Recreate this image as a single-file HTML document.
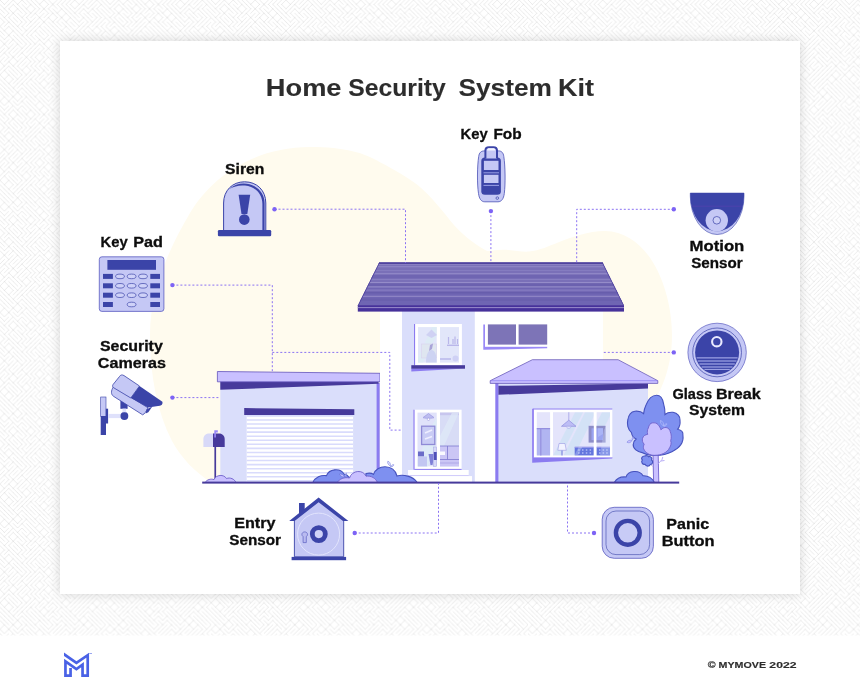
<!DOCTYPE html>
<html lang="en">
<head>
<meta charset="utf-8">
<title>Home Security System Kit</title>
<style>
html,body{margin:0;padding:0;background:#fff;}
body{width:860px;height:694px;overflow:hidden;position:relative;font-family:"Liberation Sans",sans-serif;}
#bg{position:absolute;left:0;top:0;width:860px;height:635.5px;display:block;}
#card{position:absolute;left:60px;top:41px;width:740px;height:553px;background:#fff;box-shadow:0 0 10px rgba(0,0,0,.17);}
#art{will-change:transform;position:absolute;left:0;top:0;width:860px;height:694px;display:block;font-family:"Liberation Sans",sans-serif;}
</style>
</head>
<body>
<svg id="bg" viewBox="0 0 860 635.5" width="860" height="635.5">
<defs><pattern id="mz" width="105.6" height="105.6" patternUnits="userSpaceOnUse"><path d="M0 0l4.4 4.4M8.8 0l-4.4 4.4M13.2 0l-4.4 4.4M13.2 0l4.4 4.4M22 0l-4.4 4.4M22 0l4.4 4.4M26.4 0l4.4 4.4M30.8 0l4.4 4.4M35.2 0l4.4 4.4M44 0l-4.4 4.4M44 0l4.4 4.4M48.4 0l4.4 4.4M57.2 0l-4.4 4.4M61.6 0l-4.4 4.4M66 0l-4.4 4.4M70.4 0l-4.4 4.4M74.8 0l-4.4 4.4M74.8 0l4.4 4.4M83.6 0l-4.4 4.4M88 0l-4.4 4.4M92.4 0l-4.4 4.4M96.8 0l-4.4 4.4M96.8 0l4.4 4.4M101.2 0l4.4 4.4M0 4.4l4.4 4.4M8.8 4.4l-4.4 4.4M13.2 4.4l-4.4 4.4M13.2 4.4l4.4 4.4M17.6 4.4l4.4 4.4M22 4.4l4.4 4.4M30.8 4.4l-4.4 4.4M30.8 4.4l4.4 4.4M35.2 4.4l4.4 4.4M39.6 4.4l4.4 4.4M48.4 4.4l-4.4 4.4M52.8 4.4l-4.4 4.4M52.8 4.4l4.4 4.4M57.2 4.4l4.4 4.4M61.6 4.4l4.4 4.4M66 4.4l4.4 4.4M70.4 4.4l4.4 4.4M79.2 4.4l-4.4 4.4M83.6 4.4l-4.4 4.4M83.6 4.4l4.4 4.4M92.4 4.4l-4.4 4.4M96.8 4.4l-4.4 4.4M101.2 4.4l-4.4 4.4M101.2 4.4l4.4 4.4M0 8.8l4.4 4.4M4.4 8.8l4.4 4.4M8.8 8.8l4.4 4.4M17.6 8.8l-4.4 4.4M17.6 8.8l4.4 4.4M22 8.8l4.4 4.4M26.4 8.8l4.4 4.4M35.2 8.8l-4.4 4.4M39.6 8.8l-4.4 4.4M44 8.8l-4.4 4.4M44 8.8l4.4 4.4M48.4 8.8l4.4 4.4M52.8 8.8l4.4 4.4M61.6 8.8l-4.4 4.4M61.6 8.8l4.4 4.4M66 8.8l4.4 4.4M70.4 8.8l4.4 4.4M79.2 8.8l-4.4 4.4M83.6 8.8l-4.4 4.4M83.6 8.8l4.4 4.4M92.4 8.8l-4.4 4.4M92.4 8.8l4.4 4.4M96.8 8.8l4.4 4.4M101.2 8.8l4.4 4.4M0 13.2l4.4 4.4M8.8 13.2l-4.4 4.4M13.2 13.2l-4.4 4.4M13.2 13.2l4.4 4.4M17.6 13.2l4.4 4.4M26.4 13.2l-4.4 4.4M30.8 13.2l-4.4 4.4M35.2 13.2l-4.4 4.4M35.2 13.2l4.4 4.4M44 13.2l-4.4 4.4M48.4 13.2l-4.4 4.4M52.8 13.2l-4.4 4.4M52.8 13.2l4.4 4.4M57.2 13.2l4.4 4.4M66 13.2l-4.4 4.4M66 13.2l4.4 4.4M70.4 13.2l4.4 4.4M74.8 13.2l4.4 4.4M79.2 13.2l4.4 4.4M83.6 13.2l4.4 4.4M88 13.2l4.4 4.4M92.4 13.2l4.4 4.4M96.8 13.2l4.4 4.4M101.2 13.2l4.4 4.4M0 17.6l4.4 4.4M4.4 17.6l4.4 4.4M8.8 17.6l4.4 4.4M13.2 17.6l4.4 4.4M17.6 17.6l4.4 4.4M22 17.6l4.4 4.4M26.4 17.6l4.4 4.4M35.2 17.6l-4.4 4.4M39.6 17.6l-4.4 4.4M39.6 17.6l4.4 4.4M48.4 17.6l-4.4 4.4M48.4 17.6l4.4 4.4M57.2 17.6l-4.4 4.4M61.6 17.6l-4.4 4.4M61.6 17.6l4.4 4.4M70.4 17.6l-4.4 4.4M70.4 17.6l4.4 4.4M74.8 17.6l4.4 4.4M83.6 17.6l-4.4 4.4M83.6 17.6l4.4 4.4M88 17.6l4.4 4.4M96.8 17.6l-4.4 4.4M101.2 17.6l-4.4 4.4M105.6 17.6l-4.4 4.4M4.4 22l-4.4 4.4M8.8 22l-4.4 4.4M8.8 22l4.4 4.4M13.2 22l4.4 4.4M22 22l-4.4 4.4M26.4 22l-4.4 4.4M30.8 22l-4.4 4.4M35.2 22l-4.4 4.4M39.6 22l-4.4 4.4M44 22l-4.4 4.4M44 22l4.4 4.4M48.4 22l4.4 4.4M52.8 22l4.4 4.4M57.2 22l4.4 4.4M61.6 22l4.4 4.4M66 22l4.4 4.4M70.4 22l4.4 4.4M74.8 22l4.4 4.4M83.6 22l-4.4 4.4M88 22l-4.4 4.4M92.4 22l-4.4 4.4M96.8 22l-4.4 4.4M101.2 22l-4.4 4.4M105.6 22l-4.4 4.4M0 26.4l4.4 4.4M8.8 26.4l-4.4 4.4M8.8 26.4l4.4 4.4M13.2 26.4l4.4 4.4M17.6 26.4l4.4 4.4M22 26.4l4.4 4.4M30.8 26.4l-4.4 4.4M35.2 26.4l-4.4 4.4M39.6 26.4l-4.4 4.4M39.6 26.4l4.4 4.4M44 26.4l4.4 4.4M48.4 26.4l4.4 4.4M52.8 26.4l4.4 4.4M57.2 26.4l4.4 4.4M66 26.4l-4.4 4.4M66 26.4l4.4 4.4M70.4 26.4l4.4 4.4M79.2 26.4l-4.4 4.4M83.6 26.4l-4.4 4.4M88 26.4l-4.4 4.4M88 26.4l4.4 4.4M96.8 26.4l-4.4 4.4M96.8 26.4l4.4 4.4M101.2 26.4l4.4 4.4M0 30.8l4.4 4.4M4.4 30.8l4.4 4.4M13.2 30.8l-4.4 4.4M13.2 30.8l4.4 4.4M17.6 30.8l4.4 4.4M26.4 30.8l-4.4 4.4M30.8 30.8l-4.4 4.4M35.2 30.8l-4.4 4.4M35.2 30.8l4.4 4.4M39.6 30.8l4.4 4.4M44 30.8l4.4 4.4M48.4 30.8l4.4 4.4M52.8 30.8l4.4 4.4M57.2 30.8l4.4 4.4M61.6 30.8l4.4 4.4M66 30.8l4.4 4.4M74.8 30.8l-4.4 4.4M74.8 30.8l4.4 4.4M79.2 30.8l4.4 4.4M83.6 30.8l4.4 4.4M88 30.8l4.4 4.4M92.4 30.8l4.4 4.4M101.2 30.8l-4.4 4.4M105.6 30.8l-4.4 4.4M0 35.2l4.4 4.4M8.8 35.2l-4.4 4.4M8.8 35.2l4.4 4.4M13.2 35.2l4.4 4.4M17.6 35.2l4.4 4.4M22 35.2l4.4 4.4M26.4 35.2l4.4 4.4M30.8 35.2l4.4 4.4M35.2 35.2l4.4 4.4M39.6 35.2l4.4 4.4M48.4 35.2l-4.4 4.4M52.8 35.2l-4.4 4.4M52.8 35.2l4.4 4.4M57.2 35.2l4.4 4.4M61.6 35.2l4.4 4.4M66 35.2l4.4 4.4M74.8 35.2l-4.4 4.4M79.2 35.2l-4.4 4.4M79.2 35.2l4.4 4.4M83.6 35.2l4.4 4.4M88 35.2l4.4 4.4M92.4 35.2l4.4 4.4M96.8 35.2l4.4 4.4M101.2 35.2l4.4 4.4M0 39.6l4.4 4.4M8.8 39.6l-4.4 4.4M13.2 39.6l-4.4 4.4M13.2 39.6l4.4 4.4M17.6 39.6l4.4 4.4M22 39.6l4.4 4.4M26.4 39.6l4.4 4.4M30.8 39.6l4.4 4.4M39.6 39.6l-4.4 4.4M39.6 39.6l4.4 4.4M48.4 39.6l-4.4 4.4M48.4 39.6l4.4 4.4M52.8 39.6l4.4 4.4M57.2 39.6l4.4 4.4M61.6 39.6l4.4 4.4M70.4 39.6l-4.4 4.4M74.8 39.6l-4.4 4.4M79.2 39.6l-4.4 4.4M83.6 39.6l-4.4 4.4M83.6 39.6l4.4 4.4M88 39.6l4.4 4.4M92.4 39.6l4.4 4.4M101.2 39.6l-4.4 4.4M101.2 39.6l4.4 4.4M4.4 44l-4.4 4.4M4.4 44l4.4 4.4M13.2 44l-4.4 4.4M17.6 44l-4.4 4.4M17.6 44l4.4 4.4M26.4 44l-4.4 4.4M30.8 44l-4.4 4.4M35.2 44l-4.4 4.4M39.6 44l-4.4 4.4M39.6 44l4.4 4.4M44 44l4.4 4.4M52.8 44l-4.4 4.4M57.2 44l-4.4 4.4M57.2 44l4.4 4.4M61.6 44l4.4 4.4M70.4 44l-4.4 4.4M74.8 44l-4.4 4.4M79.2 44l-4.4 4.4M79.2 44l4.4 4.4M83.6 44l4.4 4.4M88 44l4.4 4.4M92.4 44l4.4 4.4M96.8 44l4.4 4.4M105.6 44l-4.4 4.4M4.4 48.4l-4.4 4.4M8.8 48.4l-4.4 4.4M13.2 48.4l-4.4 4.4M17.6 48.4l-4.4 4.4M22 48.4l-4.4 4.4M26.4 48.4l-4.4 4.4M30.8 48.4l-4.4 4.4M35.2 48.4l-4.4 4.4M39.6 48.4l-4.4 4.4M44 48.4l-4.4 4.4M48.4 48.4l-4.4 4.4M48.4 48.4l4.4 4.4M57.2 48.4l-4.4 4.4M61.6 48.4l-4.4 4.4M66 48.4l-4.4 4.4M70.4 48.4l-4.4 4.4M74.8 48.4l-4.4 4.4M74.8 48.4l4.4 4.4M79.2 48.4l4.4 4.4M83.6 48.4l4.4 4.4M92.4 48.4l-4.4 4.4M92.4 48.4l4.4 4.4M96.8 48.4l4.4 4.4M105.6 48.4l-4.4 4.4M4.4 52.8l-4.4 4.4M4.4 52.8l4.4 4.4M8.8 52.8l4.4 4.4M17.6 52.8l-4.4 4.4M22 52.8l-4.4 4.4M22 52.8l4.4 4.4M30.8 52.8l-4.4 4.4M35.2 52.8l-4.4 4.4M39.6 52.8l-4.4 4.4M39.6 52.8l4.4 4.4M44 52.8l4.4 4.4M48.4 52.8l4.4 4.4M57.2 52.8l-4.4 4.4M61.6 52.8l-4.4 4.4M66 52.8l-4.4 4.4M70.4 52.8l-4.4 4.4M74.8 52.8l-4.4 4.4M79.2 52.8l-4.4 4.4M79.2 52.8l4.4 4.4M83.6 52.8l4.4 4.4M88 52.8l4.4 4.4M92.4 52.8l4.4 4.4M96.8 52.8l4.4 4.4M101.2 52.8l4.4 4.4M4.4 57.2l-4.4 4.4M8.8 57.2l-4.4 4.4M13.2 57.2l-4.4 4.4M13.2 57.2l4.4 4.4M22 57.2l-4.4 4.4M26.4 57.2l-4.4 4.4M26.4 57.2l4.4 4.4M30.8 57.2l4.4 4.4M35.2 57.2l4.4 4.4M44 57.2l-4.4 4.4M48.4 57.2l-4.4 4.4M48.4 57.2l4.4 4.4M52.8 57.2l4.4 4.4M61.6 57.2l-4.4 4.4M66 57.2l-4.4 4.4M70.4 57.2l-4.4 4.4M74.8 57.2l-4.4 4.4M74.8 57.2l4.4 4.4M79.2 57.2l4.4 4.4M83.6 57.2l4.4 4.4M92.4 57.2l-4.4 4.4M92.4 57.2l4.4 4.4M96.8 57.2l4.4 4.4M101.2 57.2l4.4 4.4M0 61.6l4.4 4.4M8.8 61.6l-4.4 4.4M8.8 61.6l4.4 4.4M17.6 61.6l-4.4 4.4M22 61.6l-4.4 4.4M26.4 61.6l-4.4 4.4M30.8 61.6l-4.4 4.4M35.2 61.6l-4.4 4.4M39.6 61.6l-4.4 4.4M44 61.6l-4.4 4.4M44 61.6l4.4 4.4M52.8 61.6l-4.4 4.4M52.8 61.6l4.4 4.4M57.2 61.6l4.4 4.4M61.6 61.6l4.4 4.4M70.4 61.6l-4.4 4.4M74.8 61.6l-4.4 4.4M79.2 61.6l-4.4 4.4M79.2 61.6l4.4 4.4M83.6 61.6l4.4 4.4M92.4 61.6l-4.4 4.4M92.4 61.6l4.4 4.4M101.2 61.6l-4.4 4.4M101.2 61.6l4.4 4.4M4.4 66l-4.4 4.4M8.8 66l-4.4 4.4M8.8 66l4.4 4.4M13.2 66l4.4 4.4M17.6 66l4.4 4.4M26.4 66l-4.4 4.4M26.4 66l4.4 4.4M30.8 66l4.4 4.4M35.2 66l4.4 4.4M39.6 66l4.4 4.4M44 66l4.4 4.4M48.4 66l4.4 4.4M52.8 66l4.4 4.4M57.2 66l4.4 4.4M61.6 66l4.4 4.4M66 66l4.4 4.4M70.4 66l4.4 4.4M79.2 66l-4.4 4.4M83.6 66l-4.4 4.4M88 66l-4.4 4.4M92.4 66l-4.4 4.4M96.8 66l-4.4 4.4M96.8 66l4.4 4.4M101.2 66l4.4 4.4M4.4 70.4l-4.4 4.4M4.4 70.4l4.4 4.4M8.8 70.4l4.4 4.4M13.2 70.4l4.4 4.4M17.6 70.4l4.4 4.4M22 70.4l4.4 4.4M30.8 70.4l-4.4 4.4M35.2 70.4l-4.4 4.4M35.2 70.4l4.4 4.4M44 70.4l-4.4 4.4M44 70.4l4.4 4.4M52.8 70.4l-4.4 4.4M52.8 70.4l4.4 4.4M57.2 70.4l4.4 4.4M66 70.4l-4.4 4.4M66 70.4l4.4 4.4M74.8 70.4l-4.4 4.4M79.2 70.4l-4.4 4.4M83.6 70.4l-4.4 4.4M88 70.4l-4.4 4.4M92.4 70.4l-4.4 4.4M96.8 70.4l-4.4 4.4M96.8 70.4l4.4 4.4M101.2 70.4l4.4 4.4M0 74.8l4.4 4.4M8.8 74.8l-4.4 4.4M8.8 74.8l4.4 4.4M13.2 74.8l4.4 4.4M22 74.8l-4.4 4.4M26.4 74.8l-4.4 4.4M30.8 74.8l-4.4 4.4M35.2 74.8l-4.4 4.4M39.6 74.8l-4.4 4.4M44 74.8l-4.4 4.4M48.4 74.8l-4.4 4.4M52.8 74.8l-4.4 4.4M52.8 74.8l4.4 4.4M57.2 74.8l4.4 4.4M61.6 74.8l4.4 4.4M70.4 74.8l-4.4 4.4M74.8 74.8l-4.4 4.4M79.2 74.8l-4.4 4.4M83.6 74.8l-4.4 4.4M88 74.8l-4.4 4.4M92.4 74.8l-4.4 4.4M92.4 74.8l4.4 4.4M101.2 74.8l-4.4 4.4M105.6 74.8l-4.4 4.4M0 79.2l4.4 4.4M4.4 79.2l4.4 4.4M13.2 79.2l-4.4 4.4M17.6 79.2l-4.4 4.4M22 79.2l-4.4 4.4M26.4 79.2l-4.4 4.4M30.8 79.2l-4.4 4.4M30.8 79.2l4.4 4.4M35.2 79.2l4.4 4.4M44 79.2l-4.4 4.4M44 79.2l4.4 4.4M52.8 79.2l-4.4 4.4M57.2 79.2l-4.4 4.4M61.6 79.2l-4.4 4.4M61.6 79.2l4.4 4.4M66 79.2l4.4 4.4M74.8 79.2l-4.4 4.4M79.2 79.2l-4.4 4.4M83.6 79.2l-4.4 4.4M88 79.2l-4.4 4.4M88 79.2l4.4 4.4M96.8 79.2l-4.4 4.4M96.8 79.2l4.4 4.4M101.2 79.2l4.4 4.4M0 83.6l4.4 4.4M4.4 83.6l4.4 4.4M8.8 83.6l4.4 4.4M17.6 83.6l-4.4 4.4M22 83.6l-4.4 4.4M22 83.6l4.4 4.4M26.4 83.6l4.4 4.4M30.8 83.6l4.4 4.4M35.2 83.6l4.4 4.4M39.6 83.6l4.4 4.4M48.4 83.6l-4.4 4.4M52.8 83.6l-4.4 4.4M52.8 83.6l4.4 4.4M57.2 83.6l4.4 4.4M61.6 83.6l4.4 4.4M66 83.6l4.4 4.4M70.4 83.6l4.4 4.4M79.2 83.6l-4.4 4.4M83.6 83.6l-4.4 4.4M88 83.6l-4.4 4.4M88 83.6l4.4 4.4M92.4 83.6l4.4 4.4M96.8 83.6l4.4 4.4M101.2 83.6l4.4 4.4M0 88l4.4 4.4M4.4 88l4.4 4.4M8.8 88l4.4 4.4M13.2 88l4.4 4.4M22 88l-4.4 4.4M22 88l4.4 4.4M26.4 88l4.4 4.4M30.8 88l4.4 4.4M35.2 88l4.4 4.4M39.6 88l4.4 4.4M44 88l4.4 4.4M52.8 88l-4.4 4.4M52.8 88l4.4 4.4M61.6 88l-4.4 4.4M61.6 88l4.4 4.4M66 88l4.4 4.4M70.4 88l4.4 4.4M74.8 88l4.4 4.4M83.6 88l-4.4 4.4M83.6 88l4.4 4.4M88 88l4.4 4.4M92.4 88l4.4 4.4M96.8 88l4.4 4.4M101.2 88l4.4 4.4M0 92.4l4.4 4.4M4.4 92.4l4.4 4.4M8.8 92.4l4.4 4.4M17.6 92.4l-4.4 4.4M17.6 92.4l4.4 4.4M22 92.4l4.4 4.4M26.4 92.4l4.4 4.4M30.8 92.4l4.4 4.4M39.6 92.4l-4.4 4.4M39.6 92.4l4.4 4.4M44 92.4l4.4 4.4M48.4 92.4l4.4 4.4M52.8 92.4l4.4 4.4M61.6 92.4l-4.4 4.4M61.6 92.4l4.4 4.4M66 92.4l4.4 4.4M70.4 92.4l4.4 4.4M79.2 92.4l-4.4 4.4M79.2 92.4l4.4 4.4M88 92.4l-4.4 4.4M88 92.4l4.4 4.4M92.4 92.4l4.4 4.4M96.8 92.4l4.4 4.4M101.2 92.4l4.4 4.4M4.4 96.8l-4.4 4.4M4.4 96.8l4.4 4.4M13.2 96.8l-4.4 4.4M13.2 96.8l4.4 4.4M22 96.8l-4.4 4.4M26.4 96.8l-4.4 4.4M26.4 96.8l4.4 4.4M30.8 96.8l4.4 4.4M35.2 96.8l4.4 4.4M39.6 96.8l4.4 4.4M44 96.8l4.4 4.4M52.8 96.8l-4.4 4.4M57.2 96.8l-4.4 4.4M61.6 96.8l-4.4 4.4M66 96.8l-4.4 4.4M66 96.8l4.4 4.4M70.4 96.8l4.4 4.4M79.2 96.8l-4.4 4.4M83.6 96.8l-4.4 4.4M83.6 96.8l4.4 4.4M92.4 96.8l-4.4 4.4M92.4 96.8l4.4 4.4M96.8 96.8l4.4 4.4M105.6 96.8l-4.4 4.4M0 101.2l4.4 4.4M8.8 101.2l-4.4 4.4M8.8 101.2l4.4 4.4M13.2 101.2l4.4 4.4M22 101.2l-4.4 4.4M22 101.2l4.4 4.4M26.4 101.2l4.4 4.4M30.8 101.2l4.4 4.4M39.6 101.2l-4.4 4.4M39.6 101.2l4.4 4.4M44 101.2l4.4 4.4M52.8 101.2l-4.4 4.4M57.2 101.2l-4.4 4.4M61.6 101.2l-4.4 4.4M66 101.2l-4.4 4.4M66 101.2l4.4 4.4M74.8 101.2l-4.4 4.4M79.2 101.2l-4.4 4.4M83.6 101.2l-4.4 4.4M88 101.2l-4.4 4.4M92.4 101.2l-4.4 4.4M96.8 101.2l-4.4 4.4M101.2 101.2l-4.4 4.4M105.6 101.2l-4.4 4.4" fill="none" stroke="#dadada" stroke-width="0.55" stroke-linecap="square"/></pattern></defs>
<rect width="860" height="635.5" fill="#fff"/>
<rect width="860" height="635.5" fill="url(#mz)"/>
</svg>
<div id="card"></div>
<svg id="art" viewBox="0 0 860 694" width="860" height="694">
<path fill="#fffbee" d="M310 147C255 147 212 176 190 213C168 250 150 292 150 335C150 375 157 412 172 441C181 458 196 473 212 483L520 483L510 300L506.5 262.8C501 259 495 255.5 488 251.6C477 246 466 238 454.4 225.6C444 213 432 197 417 184.6C407 177 395 170 380 162.3C365 153 345 147 310 147Z"/>
<path fill="#fffbee" d="M455 262.5C460 258.5 464 256.4 469.3 255.3C480 252.5 492 250 502.8 249.8C512 249.8 520 252 528.8 251.6C540 250.5 549 246 558.6 242.3C572 237 588 231 605 231C650 232 672 290 672 335C672 370 660 392 650 410L640 483L455 483Z"/>
<rect x="220.3" y="381" width="158.5" height="101.5" fill="#dadefb"/>
<rect x="376.6" y="383" width="3.1" height="99.5" fill="#8b7bf0"/>
<path d="M220.3 381.5H378.5V383.7L220.3 389.8Z" fill="#473a9b"/>
<path d="M217.4 371.5L380 373.3V381.8H217.4Z" fill="#c9c0ff" stroke="#6353bb" stroke-width="0.8"/>
<rect x="246.7" y="414" width="106.4" height="68.5" fill="#fff"/>
<path d="M246.7 415.90H353.1M246.7 419.96H353.1M246.7 424.02H353.1M246.7 428.08H353.1M246.7 432.14H353.1M246.7 436.20H353.1M246.7 440.26H353.1M246.7 444.32H353.1M246.7 448.38H353.1M246.7 452.44H353.1M246.7 456.50H353.1M246.7 460.56H353.1M246.7 464.62H353.1M246.7 468.68H353.1M246.7 472.74H353.1M246.7 476.80H353.1M246.7 480.86H353.1" stroke="#d9dbfc" stroke-width="1.6" fill="none"/>
<path d="M244.2 408.1L354.3 409.3V414.9H244.2Z" fill="#473a9b"/>
<rect x="380" y="308" width="223" height="175" fill="#fff"/>
<rect x="402" y="308" width="72.8" height="175" fill="#dadefb"/>
<clipPath id="rf"><path d="M379.3 262.2H602.5L624 305.5V311.8H357.8V305.5Z"/></clipPath>
<g clip-path="url(#rf)"><rect x="357" y="262" width="268" height="26" fill="#7a70b8"/><rect x="357" y="287" width="268" height="19" fill="#6f65b3"/><rect x="357" y="274.8" width="268" height="3.4" fill="#6f65b2"/><rect x="357" y="283.1" width="268" height="3.2" fill="#6b61af"/><rect x="357" y="289.3" width="268" height="2.2" fill="#8177be"/><rect x="357" y="291.8" width="268" height="1.6" fill="#675dac"/><rect x="357" y="298.5" width="268" height="2.5" fill="#6a60ae"/><rect x="357" y="264.3" width="268" height="0.6" fill="#958cc9"/><rect x="357" y="266.4" width="268" height="0.8" fill="#9990cc"/><rect x="357" y="270" width="268" height="0.7" fill="#8a81c3"/><rect x="357" y="273.3" width="268" height="0.9" fill="#9990cc"/><rect x="357" y="279.3" width="268" height="0.7" fill="#8d84c5"/><rect x="357" y="282.2" width="268" height="0.9" fill="#9c93ce"/><rect x="357" y="286.5" width="268" height="0.9" fill="#9c93ce"/><rect x="357" y="295.8" width="268" height="0.9" fill="#9a91cc"/><rect x="357" y="262.2" width="268" height="1.7" fill="#4c3e9c"/><rect x="357" y="305.3" width="268" height="6.5" fill="#46319a"/><rect x="357" y="307.2" width="268" height=".9" fill="#a597d2"/><path d="M379.3 262.2L357.8 305.5M602.5 262.2L624 305.5" stroke="#4c3e9c" stroke-width="1.4" fill="none"/></g>
<path d="M411.3 368.5H465L411.3 371.6Z" fill="#8b7bf0"/>
<rect x="414.4" y="324" width="47.5" height="41.5" fill="#fff"/>
<rect x="414" y="324" width="1.1" height="41.5" fill="#8b7bf0"/>
<rect x="418" y="327.1" width="18.7" height="35.5" fill="#e2e6fa"/>
<rect x="440" y="327.1" width="19" height="35.5" fill="#e2e6fa"/>
<path d="M432 327.1H436.7V335L423 362.6H418V358Z" fill="#dcecf4" opacity=".8"/>
<path d="M426 335L431.5 329.5L437 335L431.5 338Z" fill="#cfd1f3"/>
<rect x="421.5" y="344" width="15.2" height="14" fill="#dfe6f0" stroke="#d9d2ee" stroke-width=".6"/>
<path d="M426 362.6C426 355 428 350 431.5 350C435 350 436.7 355 436.7 362.6Z" fill="#cdd3f2"/>
<path d="M430 345L433 343.5L432 349L429 351Z" fill="#a9a4d8"/>
<path d="M447 345.3H459" stroke="#b9b6ea" stroke-width="1.4"/>
<path d="M448.5 344V337M453 344V339M455 344V336.5M457.5 344V339" stroke="#b9b6ea" stroke-width="1.2"/>
<path d="M440 359H451" stroke="#c3c3ef" stroke-width="2"/>
<circle cx="455.5" cy="358.5" r="3" fill="#cfd1f5"/>
<rect x="411.3" y="365.2" width="53.7" height="3.5" fill="#473a9b"/>
<path d="M483.3 324.4H485V346.5H547.2V348.2L483.3 349.8Z" fill="#9a89f7"/>
<rect x="485" y="322.6" width="64" height="24" fill="#fff"/>
<rect x="487.9" y="324.4" width="28.1" height="20.2" fill="#7d74b7"/>
<rect x="518.6" y="324.4" width="28.6" height="20.2" fill="#7d74b7"/>
<rect x="413.6" y="409.7" width="48" height="60" fill="#fff"/>
<rect x="413.4" y="409.7" width="1.2" height="60" fill="#8b7bf0"/>
<rect x="414.3" y="468.9" width="47.3" height="1" fill="#8b7bf0"/>
<rect x="417.5" y="412.6" width="19.2" height="53.8" fill="#e0e2fa"/>
<rect x="440" y="412.6" width="19" height="53.8" fill="#d8dcf6"/>
<rect x="440" y="412.6" width="19" height="2.6" fill="#c8c6ee"/>
<path d="M436.7 440L428 466.4H417.5V460L432 425L436.7 418Z" fill="#dcecf6" opacity=".75"/>
<path d="M459 412.6L444 446H440V436L452 412.6Z" fill="#e0eaf8" opacity=".7"/>
<path d="M423 417.5L428.5 413.5L434 417.5C434 418.6 423 418.6 423 417.5Z" fill="#bcbcf0" stroke="#8b86d8" stroke-width=".5"/>
<circle cx="428.5" cy="419.3" r="1.2" fill="#fff" stroke="#8b86d8" stroke-width=".5"/>
<rect x="421.6" y="426.2" width="13.2" height="18.3" fill="#c9ccf5" stroke="#8f8ad6" stroke-width="1.3"/>
<path d="M425 433L432 430M425 439L432 436.5" stroke="#eef" stroke-width="1.6"/>
<rect x="440" y="446" width="19" height="20.4" fill="#cbc6f5"/>
<path d="M440 446H459M440 459.5H459M447.5 446V459.5" stroke="#7d78cf" stroke-width=".8" fill="none"/>
<rect x="440" y="451.5" width="5" height="3.5" fill="#fff" opacity=".9"/>
<path d="M440 463H459" stroke="#b5aeea" stroke-width="1.2"/>
<rect x="418" y="451.5" width="6" height="5" fill="#6a6cc8"/>
<rect x="418" y="456.5" width="9" height="9.9" fill="#c2c6f2"/>
<path d="M428.5 454H434.5L432.5 465H430.5Z" fill="#7f80d8"/>
<rect x="433.5" y="447" width="3.2" height="19.4" fill="#d6d8f8" stroke="#a5a6e2" stroke-width=".5"/>
<rect x="433.8" y="452" width="2.9" height="8" fill="#4f50b8"/>
<rect x="408" y="470" width="60.7" height="5.2" fill="#fff"/>
<rect x="408" y="475.2" width="60.7" height="0.9" fill="#cfc8fa"/>
<rect x="405" y="476.1" width="67" height="6" fill="#fff"/>
<rect x="496" y="383" width="152" height="99.5" fill="#dadefb"/>
<rect x="495.3" y="383" width="3.1" height="99.5" fill="#8b7bf0"/>
<path d="M498.4 385.8L648 383.6V388.4L498.4 394.8Z" fill="#473a9b"/>
<path d="M532.4 359.7H618.1L657.8 380.7V383.4H490.2V380.7Z" fill="#c9c0ff" stroke="#5a4bb0" stroke-width="0.7" stroke-linejoin="round"/>
<path d="M490.2 380.7H657.8" stroke="#8b7bf0" stroke-width="0.7"/>
<path d="M532.2 408.8H534V457H612.3V458.6L532.2 462.8Z" fill="#8b7bf0"/>
<rect x="533.7" y="409.3" width="78.6" height="48.1" fill="#fff"/>
<path d="M533.2 457.4V409H612.3" fill="none" stroke="#9483f2" stroke-width="1"/>
<rect x="536.8" y="412.2" width="13.5" height="43.2" fill="#e4e4fb"/>
<rect x="552.9" y="412.2" width="40.9" height="43.2" fill="#e4e4fb"/>
<rect x="596.4" y="412.2" width="13.6" height="43.2" fill="#e4e4fb"/>
<clipPath id="wp"><rect x="552.9" y="412.2" width="40.9" height="43.2"/><rect x="596.4" y="412.2" width="13.6" height="43.2"/></clipPath>
<g clip-path="url(#wp)" fill="#cfe2f6" opacity=".8"><path d="M575 412.2H583.1L561.1 455.4H553Z"/><path d="M585 412.2H594V416L574.5 455.4H563.5Z"/><path d="M602 412.2H610V416L596.4 443V423Z"/></g>
<rect x="536.8" y="428" width="13.5" height="27.4" fill="#b1b5f1"/>
<path d="M536.8 428.6H550.3M540.8 429V455.4" stroke="#948fde" stroke-width="1.2" fill="none"/>
<path d="M568.8 412.2V420.5" stroke="#9a98e4" stroke-width=".7"/>
<rect x="588.6" y="425.8" width="17" height="16.8" fill="#8d8dc8"/>
<rect x="591.5" y="428.3" width="11.5" height="11.8" fill="#9aa3f0"/>
<path d="M598 428.3H603V434L598 437Z" fill="#aab4f6"/>
<rect x="574.7" y="446.9" width="19.1" height="8.5" fill="#6475de"/>
<rect x="596.4" y="446.9" width="13.6" height="8.5" fill="#6475de"/>
<path d="M578.2 450h1.5M578.2 453h1.5M582 450h1.5M582 453h1.5M585.8 450h1.5M585.8 453h1.5M589.6 450h1.5M589.6 453h1.5M599 450h1.5M599 453h1.5M602.6 450h1.5M602.6 453h1.5M606.2 450h1.5M606.2 453h1.5" stroke="#d5dbff" stroke-width="1.2"/>
<path d="M574.7 447.2H593.8M596.4 447.2H610" stroke="#a9a6ee" stroke-width="1"/>
<g clip-path="url(#wp)" fill="#dfeaff" opacity=".3"><path d="M578.6 446.9H582.3L578 455.4H574.5Z"/><path d="M604 430L610 418V455.4H600Z"/></g>
<path d="M561.5 426.3L568.8 420.2L576 426.3Z" fill="#bdbdf5" stroke="#8f8ee0" stroke-width=".7" stroke-linejoin="round"/>
<path d="M566.5 426.8C567 428.8 570.6 428.8 571 426.8" fill="#e9ebff" stroke="#9f9eea" stroke-width=".6"/>
<path d="M559 443.5H565L566.3 450.3H557.8Z" fill="#f2f3ff" stroke="#9a98e4" stroke-width=".6"/>
<path d="M562 450.5V455.4" stroke="#8088e0" stroke-width="1.2"/>
<path d="M551.6 410V457M595.1 410V457" stroke="#fff" stroke-width="2.6"/>
<rect x="214.4" y="446" width="1.7" height="36.5" fill="#473a9b"/>
<path d="M203.4 447V439C203.4 435.5 206 433.5 209.5 433.5H215V447Z" fill="#d8d9f8"/>
<path d="M213 447V433.5H219C222.5 433.5 224.7 436 224.7 439.5V447Z" fill="#473a9b"/>
<path d="M214.3 437.6V430.3H217.8V432.4H215.9V437.6Z" fill="#9a89f7"/>
<path d="M205 482.5C207 479.5 211 478.5 214 479.6C216 474.5 224 474 226.5 478.6C230 477 234.5 479 236 482.5Z" fill="#c9c0ff" stroke="#6f61cc" stroke-width=".9"/>
<path d="M312.8 482.5C315 477 321 474.8 326.5 475.6C329 468.8 340 467.6 344 474C346.5 474.6 348.5 476 349.5 478L340 482.5Z" fill="#7e90f0" stroke="#4652be" stroke-width="1.1"/>
<path d="M365.6 482.5L366 473.5C369 472.8 372 473.2 373.5 474.4C376.5 464.6 393.5 463.4 397 476C403 474.2 413 476 417.2 482.5Z" fill="#7e90f0" stroke="#4652be" stroke-width="1.1"/>
<path d="M337.4 482.5C339 479 344.5 476.8 349.5 478C352 469.8 363.5 469.5 366 476.2C371 475.4 376 478.4 377.4 482.5Z" fill="#c9c0ff" stroke="#6f61cc" stroke-width=".9"/>
<path d="M344.6 477.2C342 477 340 475.6 339.3 474.2C341.3 473.6 343.8 474.8 344.6 477.2ZM345.2 477.2C344.8 475.2 345.4 473.6 346.3 473.2C346.9 474.6 346.6 476.3 345.2 477.2Z" fill="#c9c0ff" stroke="#5563c8" stroke-width=".5"/>
<path d="M390.5 466.5C388 464.5 387 462.5 387.8 461.2C389.5 461.5 391 463.5 390.5 466.5ZM390.8 466.8C391.5 465 392.8 464.3 393.8 464.7C393.6 466 392.6 466.8 390.8 466.8Z" fill="#dcdcfa" stroke="#6f78dc" stroke-width=".5"/>
<path d="M647.9 482.5V455H612.5C612.5 455 640 390 647.9 391Z" fill="none"/>
<path d="M653 455L653.6 482.5H658.8L658.2 455Z" fill="#c9c0ff" stroke="#6f61cc" stroke-width=".9"/>
<path d="M652.5 466.5L648.5 461M658.5 463.5L662 459.5M661 461L664.5 460.5M662 459.5L662.8 457" stroke="#b9aef5" stroke-width="1" fill="none"/>
<path d="M645 456C642 455.8 640.8 458.5 642.3 460C640.8 462 642.5 464.8 645 464.3C646 466.8 649.5 466.5 650.3 464.5C653 464.3 653.3 461 651.6 460C652.6 457.5 650.2 455.8 648.5 456.8C647.8 455.6 645.8 455.3 645 456Z" fill="#7e90f0" stroke="#4652be" stroke-width="1.1"/>
<path d="M614.3 482.5C616.5 478.8 621 476.5 626 477C628 470.4 639.5 469.5 643 475.8C647.5 475.6 652 478 654.5 482.5Z" fill="#7e90f0" stroke="#4652be" stroke-width="1.1"/>
<path d="M655.8 455.3C650 455.6 646 454.6 643 452.9C637.5 452 632.5 448.5 633.3 444.2C633.5 442 634.6 440.2 636.1 439C633 437.5 631.8 435 631.5 432.7C627.8 429.5 626.8 424 627.8 420C628.5 415 631.5 411.6 635 411.2C638.5 410.9 641.8 411.8 643.6 413.6C644 410.5 644.8 407.5 646 405C648.4 399 652.5 395.3 656.6 395.3C660.2 395.3 662.8 399 663.6 403.8C664.6 407 665 411 665 414.5C667.2 412.6 670 412 673 412.3C677.5 413 680.3 416.5 680 420C680.4 423.5 679.5 427 677.7 429.2C681.5 430 683.2 432.5 682.9 435C683.8 441 680.5 447.5 671.9 451.7C667.5 454 662 455.3 655.8 455.3Z" fill="#7e90f0" stroke="#4652be" stroke-width="1.1"/>
<path d="M654.6 455.3C650 455.5 645.5 453 643.6 448.8C643.2 447 643.5 445.4 644.2 444.2C642.6 442.6 642 440.4 642.5 438.4C643.2 436 645.3 434.5 647.7 434.4C647 432 647.3 429.8 648.3 428C649 425 650.5 422.9 652.3 422.9C654.8 422.5 657 423.2 658 424.6C659.5 426.2 660.4 428 660.9 429.8C662.5 428.2 664.3 427.3 666.1 427.5C668.3 428 670 429.5 670.2 431.5C671.5 434.5 671.6 438 670.7 440.7C671.5 443 671 445.6 669.6 447.7C667.5 452.5 661.5 455.3 654.6 455.3Z" fill="#c9c0ff" stroke="#6f61cc" stroke-width=".9"/>
<path d="M632 440.5C629.5 439.6 627.5 440.8 627 442.3C629 443.3 631 442.6 632 440.5ZM632.3 440C631.8 438.5 632.5 437.2 633.3 436.8C633.8 438 633.5 439.3 632.3 440Z" fill="#c9c0ff" stroke="#6f78dc" stroke-width=".5"/>
<path d="M663.5 426C661 424.5 660 422 660.5 420.5C662.5 421 664 423.2 663.5 426ZM664 426.3C664.5 424.3 665.8 423.5 666.8 423.8C666.6 425.2 665.6 426.2 664 426.3Z" fill="#7e90f0" stroke="#c9cfff" stroke-width=".5"/>
<rect x="202.2" y="481.6" width="477" height="2" fill="#473a9b"/>
<path d="M274.5 209.2H405.5V263" fill="none" stroke="#8a72f3" stroke-width="1" stroke-dasharray="2 2"/>
<circle cx="274.5" cy="209.2" r="2.2" fill="#7d63f5"/>
<path d="M172.4 285.1H272.3V371.5M272.3 352.4H389.8V430.1H402" fill="none" stroke="#8a72f3" stroke-width="1" stroke-dasharray="2 2"/>
<circle cx="172.4" cy="285.1" r="2.2" fill="#7d63f5"/>
<path d="M172.4 397.6H220" fill="none" stroke="#8a72f3" stroke-width="1" stroke-dasharray="2 2"/>
<circle cx="172.4" cy="397.6" r="2.2" fill="#7d63f5"/>
<path d="M490.9 211.1V263" fill="none" stroke="#8a72f3" stroke-width="1" stroke-dasharray="2 2"/>
<circle cx="490.9" cy="211.1" r="2.2" fill="#7d63f5"/>
<path d="M673.8 209.3H576.7V263" fill="none" stroke="#8a72f3" stroke-width="1" stroke-dasharray="2 2"/>
<circle cx="673.8" cy="209.3" r="2.2" fill="#7d63f5"/>
<path d="M673.8 352.4H603" fill="none" stroke="#8a72f3" stroke-width="1" stroke-dasharray="2 2"/>
<circle cx="673.8" cy="352.4" r="2.2" fill="#7d63f5"/>
<path d="M594 533H567.5V483" fill="none" stroke="#8a72f3" stroke-width="1" stroke-dasharray="2 2"/>
<circle cx="594" cy="533" r="2.2" fill="#7d63f5"/>
<path d="M354.7 533H438.5V483" fill="none" stroke="#8a72f3" stroke-width="1" stroke-dasharray="2 2"/>
<circle cx="354.7" cy="533" r="2.2" fill="#7d63f5"/>
<path d="M223.6 230.5V203C223.6 190.5 232.5 181.8 244.6 181.8C257 181.8 265.8 190.5 265.8 203V230.5Z" fill="#c5c8f5" stroke="#3b44a8" stroke-width="1"/>
<path d="M229.5 189C235 183.6 243 182.5 249.5 184.2C258.5 186.6 264.6 194 264.6 203V230.5H262.4V204C262.4 194 255.5 186.6 245 185.6C239.5 185 234 186.2 229.5 189Z" fill="#3b44a8"/>
<path d="M238.6 194.8H250.2L247.3 214H241.5Z" fill="#3b44a8"/>
<circle cx="244.3" cy="219.6" r="5.3" fill="#3b44a8"/>
<rect x="217.9" y="230" width="53.3" height="6.2" rx="1.3" fill="#3b44a8"/>
<rect x="99.3" y="256.8" width="64.6" height="54.6" rx="2.6" fill="#c5c8f5" stroke="#5a5cc0" stroke-width=".8"/>
<rect x="107.4" y="260" width="48.6" height="9.8" fill="#3b44a8"/>
<rect x="103" y="273.9" width="9.9" height="5" fill="#3b44a8"/><rect x="150.3" y="273.9" width="9.7" height="5" fill="#3b44a8"/><ellipse cx="120" cy="276.4" rx="4.4" ry="2.3" fill="#cfd2f8" stroke="#3b44a8" stroke-width=".7"/><ellipse cx="131.6" cy="276.4" rx="4.4" ry="2.3" fill="#cfd2f8" stroke="#3b44a8" stroke-width=".7"/><ellipse cx="143" cy="276.4" rx="4.4" ry="2.3" fill="#cfd2f8" stroke="#3b44a8" stroke-width=".7"/><rect x="103" y="283.3" width="9.9" height="5" fill="#3b44a8"/><rect x="150.3" y="283.3" width="9.7" height="5" fill="#3b44a8"/><ellipse cx="120" cy="285.8" rx="4.4" ry="2.3" fill="#cfd2f8" stroke="#3b44a8" stroke-width=".7"/><ellipse cx="131.6" cy="285.8" rx="4.4" ry="2.3" fill="#cfd2f8" stroke="#3b44a8" stroke-width=".7"/><ellipse cx="143" cy="285.8" rx="4.4" ry="2.3" fill="#cfd2f8" stroke="#3b44a8" stroke-width=".7"/><rect x="103" y="292.7" width="9.9" height="5" fill="#3b44a8"/><rect x="150.3" y="292.7" width="9.7" height="5" fill="#3b44a8"/><ellipse cx="120" cy="295.2" rx="4.4" ry="2.3" fill="#cfd2f8" stroke="#3b44a8" stroke-width=".7"/><ellipse cx="131.6" cy="295.2" rx="4.4" ry="2.3" fill="#cfd2f8" stroke="#3b44a8" stroke-width=".7"/><ellipse cx="143" cy="295.2" rx="4.4" ry="2.3" fill="#cfd2f8" stroke="#3b44a8" stroke-width=".7"/><rect x="103" y="302.0" width="9.9" height="5" fill="#3b44a8"/><rect x="150.3" y="302.0" width="9.7" height="5" fill="#3b44a8"/><ellipse cx="131.6" cy="304.5" rx="4.4" ry="2.3" fill="#cfd2f8" stroke="#3b44a8" stroke-width=".7"/>
<rect x="100.7" y="397" width="5.3" height="19.5" fill="#c5c8f5" stroke="#3b44a8" stroke-width=".6"/>
<rect x="100.7" y="416" width="5.3" height="19" fill="#3b44a8"/>
<rect x="105.8" y="408.7" width="2.3" height="14.8" fill="#3b44a8"/>
<rect x="108" y="413.9" width="14" height="4.2" fill="#dfe1fb"/>
<circle cx="124.4" cy="416" r="3.9" fill="#3b44a8"/>
<rect x="120.4" y="399" width="7.2" height="9.8" fill="#3b44a8"/>
<rect x="122.5" y="408.6" width="3.6" height="3.6" fill="#dfe1fb"/>
<path d="M113.6 386.5L148 407.8C146 411.5 144.6 414.2 142.6 414.8L113.5 396.3C111 394.5 110.6 391 113.6 386.5Z" fill="#c5c8f5" stroke="#3b44a8" stroke-width=".8" stroke-linejoin="round"/>
<path d="M146.5 409.6L152.5 406.2L148.3 412.3L145.6 413.5Z" fill="#3b44a8"/>
<path d="M119.5 376.5C120.6 374.6 122.4 374.6 124 375.6L139.5 386L130.8 398L113.4 387.6C112.4 386.8 112.4 385.6 113 384.6Z" fill="#c5c8f5" stroke="#3b44a8" stroke-width=".8" stroke-linejoin="round"/>
<path d="M139.5 386L162.4 401.8C163 403.8 161.8 405.4 159.8 405.8L148 407.6L130.8 398Z" fill="#3b44a8"/>
<path d="M484.5 150.9H498.5C501.5 150.9 503.3 152.6 503.8 156.5C505.3 166 505.5 184 504.3 193.5C503.6 198.8 501.5 201.8 498 201.8H484.8C481.3 201.8 479.2 198.8 478.5 193.5C477 184 477.2 166 478.7 156.5C479.2 152.6 481 150.9 484.5 150.9Z" fill="#c5c8f5" stroke="#4a50b5" stroke-width=".8"/>
<rect x="481.3" y="157.5" width="19.6" height="37.3" rx="3.6" fill="#3b44a8"/>
<path d="M485.4 158.5V150.6C485.4 148.3 487 147.2 489 147.2H493.4C495.4 147.2 497 148.3 497 150.6V158.5" fill="#c5c8f5" stroke="#3b44a8" stroke-width="2"/>
<path d="M487.2 150.4C487.2 148.6 488 148.2 489.2 148.2H493.2C494.4 148.2 495.2 148.6 495.2 150.4Z" fill="#f4f5ff"/>
<rect x="483.9" y="160.8" width="14.6" height="9.2" fill="#c5c8f5"/>
<rect x="483.9" y="174.8" width="14.6" height="8.2" fill="#c5c8f5"/>
<path d="M483.5 172.8H499M483.5 185.4H499" stroke="#a4a9ec" stroke-width=".9"/>
<circle cx="497.3" cy="198.1" r="1.3" fill="#c5c8f5" stroke="#3b44a8" stroke-width=".7"/>
<path d="M690.3 196A26.85 38.5 0 0 0 744 196V193.1H690.3Z" fill="#c5c8f5" stroke="#3b44a8" stroke-width=".6"/>
<path d="M690.3 196A26.85 35.2 0 0 0 744 196V193.1H690.3Z" fill="#3b44a8"/>
<path d="M692.6 206.2H741.6" stroke="#5a41b0" stroke-width=".6"/>
<circle cx="716.8" cy="220.3" r="11.2" fill="#c5c8f5"/>
<circle cx="716.8" cy="220.3" r="3.8" fill="#cdd0f7" stroke="#3b44a8" stroke-width=".7"/>
<circle cx="717.1" cy="352.4" r="29.2" fill="#c5c8f5" stroke="#5a5cc0" stroke-width=".7"/>
<circle cx="717.1" cy="352.4" r="24.4" fill="none" stroke="#3b44a8" stroke-width=".7"/>
<circle cx="717.1" cy="352.4" r="22" fill="#3b44a8"/>
<circle cx="716.8" cy="341.7" r="4.7" fill="#3b44a8" stroke="#e9eaff" stroke-width="2.1"/>
<path d="M696.6 357.9H737.6" stroke="#b4b8f2" stroke-width="1.0"/><path d="M697.7 361H736.5" stroke="#b4b8f2" stroke-width="1.0"/><path d="M699.4 364H734.8" stroke="#b4b8f2" stroke-width="1.1"/><path d="M701.7 367H732.5" stroke="#b4b8f2" stroke-width="1.0"/><path d="M704.4 369.4H729.8" stroke="#b4b8f2" stroke-width="0.9"/>
<rect x="602.2" y="507.3" width="51.2" height="51" rx="12" fill="#c5c8f5" stroke="#5a5cc0" stroke-width=".8"/>
<rect x="606" y="511" width="43.6" height="43.6" rx="10" fill="none" stroke="#3b44a8" stroke-width=".6"/>
<circle cx="627.8" cy="532.8" r="11.9" fill="#c8cbf6" stroke="#3b44a8" stroke-width="4.4"/>
<rect x="299" y="503" width="5.7" height="12" fill="#3b44a8"/>
<path d="M294.4 556.8V519L318.6 500L343.7 519V556.8Z" fill="#c5c8f5" stroke="#3b44a8" stroke-width=".9"/>
<path d="M289.2 520.9L318.6 497.6L348.4 520.9H343L318.6 502.3L294.6 520.9Z" fill="#3b44a8"/>
<rect x="291.6" y="556.9" width="54.5" height="3.3" fill="#3b44a8"/>
<circle cx="318.6" cy="534.1" r="21" fill="none" stroke="#e2e4fd" stroke-width="1"/>
<circle cx="318.8" cy="534.1" r="6.5" fill="#cfd2f8" stroke="#3b44a8" stroke-width="4.8"/>
<path d="M303.1 542.6V536.6C302.2 536 301.9 535.2 301.9 534.4C301.9 533 303.1 531.9 304.7 531.9C306.3 531.9 307.5 533 307.5 534.4C307.5 535.2 307.2 536 306.3 536.6V542.6Z" fill="#b9baf0" stroke="#5a5fc0" stroke-width=".7" stroke-linejoin="round"/>
<clipPath id="lg"><rect x="64.1" y="650" width="30" height="27.05"/></clipPath>
<path clip-path="url(#lg)" d="M70.55 668.1V675.65H65.45V661.3L76.43 669L82.55 664.7V675.65H87.7V655.25L76.43 662.97L62 652.86" fill="none" stroke="#4a62e6" stroke-width="2.7" stroke-linejoin="miter" stroke-miterlimit="10"/>
<rect x="89.3" y="653.1" width="2.7" height=".7" fill="#4a62e6" opacity=".8"/>
<text y="95.5" font-size="23" font-weight="bold" fill="#2d2d2d" stroke="#2d2d2d" stroke-width="0.1"><tspan x="265.86" textLength="75.65" lengthAdjust="spacingAndGlyphs">Home</tspan> <tspan x="348.26" textLength="97.6" lengthAdjust="spacingAndGlyphs">Security</tspan> <tspan x="458.51" textLength="93.43" lengthAdjust="spacingAndGlyphs">System</tspan> <tspan x="557.97" textLength="36.08" lengthAdjust="spacingAndGlyphs">Kit</tspan></text>
<text y="173.9" font-size="14" font-weight="bold" fill="#0d0d0d" stroke="#0d0d0d" stroke-width="0.3"><tspan x="225.13" textLength="39.23" lengthAdjust="spacingAndGlyphs">Siren</tspan></text>
<text y="246.9" font-size="14" font-weight="bold" fill="#0d0d0d" stroke="#0d0d0d" stroke-width="0.3"><tspan x="100.6" textLength="27.1" lengthAdjust="spacingAndGlyphs">Key</tspan> <tspan x="133.21" textLength="29.67" lengthAdjust="spacingAndGlyphs">Pad</tspan></text>
<text y="350.8" font-size="14" font-weight="bold" fill="#0d0d0d" stroke="#0d0d0d" stroke-width="0.3"><tspan x="99.92" textLength="62.88" lengthAdjust="spacingAndGlyphs">Security</tspan></text>
<text y="367.7" font-size="14" font-weight="bold" fill="#0d0d0d" stroke="#0d0d0d" stroke-width="0.3"><tspan x="97.86" textLength="67.99" lengthAdjust="spacingAndGlyphs">Cameras</tspan></text>
<text y="138.8" font-size="14" font-weight="bold" fill="#0d0d0d" stroke="#0d0d0d" stroke-width="0.3"><tspan x="460.6" textLength="27.1" lengthAdjust="spacingAndGlyphs">Key</tspan> <tspan x="493.46" textLength="28.15" lengthAdjust="spacingAndGlyphs">Fob</tspan></text>
<text y="250.9" font-size="14" font-weight="bold" fill="#0d0d0d" stroke="#0d0d0d" stroke-width="0.3"><tspan x="689.57" textLength="54.75" lengthAdjust="spacingAndGlyphs">Motion</tspan></text>
<text y="267.9" font-size="14" font-weight="bold" fill="#0d0d0d" stroke="#0d0d0d" stroke-width="0.3"><tspan x="691.25" textLength="51.39" lengthAdjust="spacingAndGlyphs">Sensor</tspan></text>
<text y="398.7" font-size="14" font-weight="bold" fill="#0d0d0d" stroke="#0d0d0d" stroke-width="0.3"><tspan x="672.42" textLength="39.69" lengthAdjust="spacingAndGlyphs">Glass</tspan> <tspan x="715.91" textLength="44.89" lengthAdjust="spacingAndGlyphs">Break</tspan></text>
<text y="414.7" font-size="14" font-weight="bold" fill="#0d0d0d" stroke="#0d0d0d" stroke-width="0.3"><tspan x="688.93" textLength="55.96" lengthAdjust="spacingAndGlyphs">System</tspan></text>
<text y="528.7" font-size="14" font-weight="bold" fill="#0d0d0d" stroke="#0d0d0d" stroke-width="0.3"><tspan x="666.32" textLength="42.83" lengthAdjust="spacingAndGlyphs">Panic</tspan></text>
<text y="545.8" font-size="14" font-weight="bold" fill="#0d0d0d" stroke="#0d0d0d" stroke-width="0.3"><tspan x="661.69" textLength="52.91" lengthAdjust="spacingAndGlyphs">Button</tspan></text>
<text y="527.8" font-size="14" font-weight="bold" fill="#0d0d0d" stroke="#0d0d0d" stroke-width="0.3"><tspan x="234.21" textLength="41.29" lengthAdjust="spacingAndGlyphs">Entry</tspan></text>
<text y="544.9" font-size="14" font-weight="bold" fill="#0d0d0d" stroke="#0d0d0d" stroke-width="0.3"><tspan x="229.24" textLength="51.79" lengthAdjust="spacingAndGlyphs">Sensor</tspan></text>
<text y="667.8" font-size="9.9" font-weight="bold" fill="#2d2d2d" stroke="#2d2d2d" stroke-width="0.15"><tspan x="707.84" textLength="7.92" lengthAdjust="spacingAndGlyphs">©</tspan> <tspan x="718.58" textLength="47.45" lengthAdjust="spacingAndGlyphs">MYMOVE</tspan> <tspan x="769.37" textLength="27.14" lengthAdjust="spacingAndGlyphs">2022</tspan></text>
</svg>
</body>
</html>
